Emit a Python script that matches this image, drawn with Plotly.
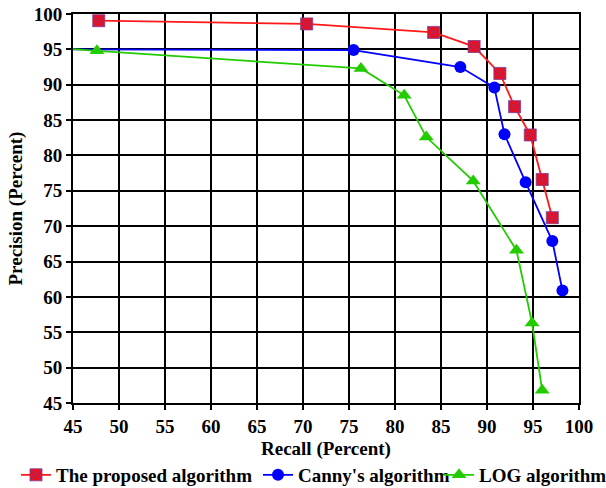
import plotly.graph_objects as go

# Data
proposed_recall = [47.8, 70.4, 84.2, 88.6, 91.4, 93.0, 94.7, 96.0, 97.1]
proposed_precision = [99.05, 98.6, 97.4, 95.4, 91.6, 86.9, 82.9, 76.6, 71.2]

canny_recall = [40.0, 75.5, 87.1, 90.8, 91.9, 94.2, 97.1, 98.2]
canny_precision = [95.0, 94.9, 92.5, 89.6, 83.0, 76.2, 67.9, 60.9]

log_recall = [40.0, 47.6, 76.3, 81.0, 83.4, 88.5, 93.2, 94.9, 96.0]
log_precision = [95.5, 94.8, 92.3, 88.5, 82.6, 76.4, 66.6, 56.3, 46.8]

x_ticks = [45, 50, 55, 60, 65, 70, 75, 80, 85, 90, 95, 100]
y_ticks = [45, 50, 55, 60, 65, 70, 75, 80, 85, 90, 95, 100]

x_title = "Recall (Percent)"
y_title = "Precision (Percent)"

FONT = "Liberation Serif, Times New Roman, serif"
FS = 19

fig = go.Figure()
fig.add_trace(go.Scatter(
    x=proposed_recall, y=proposed_precision, mode="lines+markers",
    name="<b>The proposed algorithm</b>", legend="legend",
    line=dict(color="#FF1A1A", width=1.8),
    marker=dict(symbol="square-x", size=12, color="#E8101E",
                line=dict(color="#7A3C9A", width=0.8)),
))
fig.add_trace(go.Scatter(
    x=canny_recall, y=canny_precision, mode="lines+markers",
    name="<b>Canny's algorithm</b>", legend="legend2",
    line=dict(color="#0000FF", width=1.8),
    marker=dict(symbol="circle", size=12, color="#0000FF"),
))
fig.add_trace(go.Scatter(
    x=log_recall, y=log_precision, mode="lines+markers",
    name="<b>LOG algorithm</b>", legend="legend3",
    line=dict(color="#22CC00", width=1.8),
    marker=dict(symbol="triangle-up", size=13, color="#22CC00"),
))

axis_common = dict(
    showgrid=True, gridcolor="black", gridwidth=1.8,
    showline=True, linecolor="black", linewidth=1.8, mirror=True,
    ticks="outside", ticklen=5, tickwidth=1.8, tickcolor="black",
    tickfont=dict(family=FONT, size=FS, color="black", weight="bold"),
    zeroline=False, automargin=False,
)

fig.update_xaxes(range=[45, 100], tickvals=x_ticks, ticktext=[str(v) for v in x_ticks], **axis_common)
fig.update_yaxes(range=[45, 100], tickvals=y_ticks, ticktext=[str(v) for v in y_ticks], **axis_common)

fig.add_annotation(
    text=f"<b>{x_title}</b>", xref="paper", yref="paper", x=0.5, y=0,
    yshift=-46, xanchor="center", yanchor="middle", showarrow=False,
    font=dict(family=FONT, size=FS, color="black"),
)
fig.add_annotation(
    text=f"<b>{y_title}</b>", xref="paper", yref="paper", x=0, y=0.5,
    xshift=-58, xanchor="center", yanchor="middle", showarrow=False, textangle=-90,
    font=dict(family=FONT, size=FS, color="black"),
)

def leg(xpx):
    return dict(
        orientation="h", xref="container", yref="container",
        x=xpx / 606, xanchor="left", y=1 - 475 / 488, yanchor="middle",
        font=dict(family=FONT, size=FS, color="black"),
        itemwidth=30, bgcolor="rgba(0,0,0,0)", borderwidth=0,
    )

fig.update_layout(
    width=606, height=488,
    margin=dict(l=73, r=27, t=14, b=85, autoexpand=False),
    paper_bgcolor="white", plot_bgcolor="white",
    font=dict(family=FONT, color="black"),
    showlegend=True,
    legend=leg(16),
    legend2=leg(258),
    legend3=leg(439),
)

fig.write_html("out.html")
